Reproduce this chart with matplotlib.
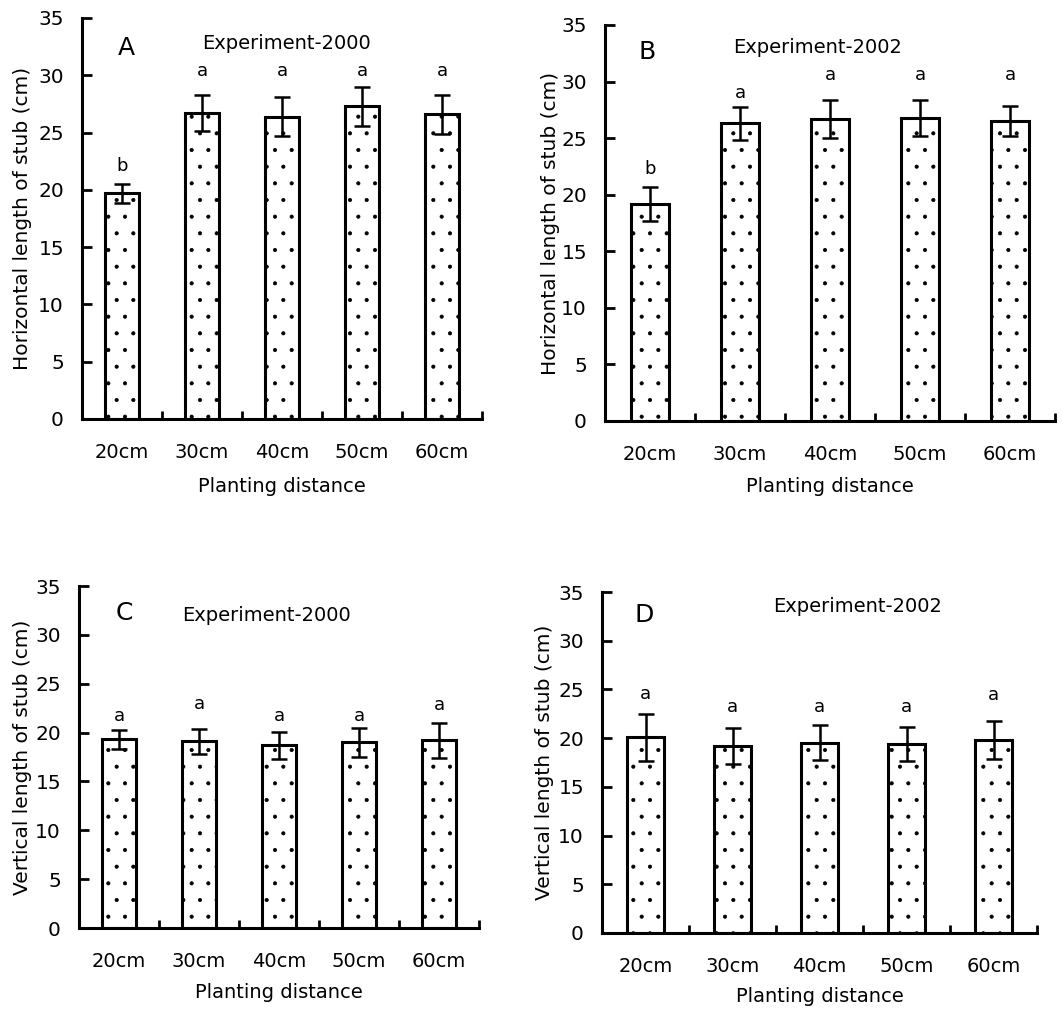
import matplotlib
matplotlib.use("Agg")
import matplotlib.pyplot as plt
import numpy as np

plt.rcParams['font.family'] = ['DejaVu Sans']
plt.rcParams['hatch.linewidth'] = 0.5

categories = ["20cm", "30cm", "40cm", "50cm", "60cm"]

a_vals = [19.7, 26.7, 26.4, 27.3, 26.6]
a_err = [0.85, 1.6, 1.7, 1.7, 1.7]
a_letters = ["b", "a", "a", "a", "a"]
a_letter_y = [22.1, 30.4, 30.4, 30.4, 30.4]

b_vals = [19.2, 26.3, 26.7, 26.8, 26.5]
b_err = [1.5, 1.45, 1.7, 1.6, 1.35]
b_letters = ["b", "a", "a", "a", "a"]
b_letter_y = [22.3, 29.0, 30.6, 30.6, 30.6]

c_vals = [19.3, 19.1, 18.7, 19.0, 19.2]
c_err = [1.0, 1.25, 1.4, 1.5, 1.8]
c_letters = ["a", "a", "a", "a", "a"]
c_letter_y = [21.7, 22.9, 21.7, 21.7, 22.8]

d_vals = [20.1, 19.2, 19.55, 19.4, 19.85]
d_err = [2.4, 1.85, 1.8, 1.75, 1.95]
d_letters = ["a", "a", "a", "a", "a"]
d_letter_y = [24.5, 23.2, 23.2, 23.15, 24.4]

W, H = 1062, 1009
fig = plt.figure(figsize=(W / 100, H / 100), dpi=100)

def px_axes(x0, x1, ytop, ybot):
    return fig.add_axes([x0 / W, 1 - ybot / H, (x1 - x0) / W, (ybot - ytop) / H])

panels = [
    dict(box=(82, 482, 18, 419), vals=a_vals, err=a_err, letters=a_letters, ly=a_letter_y,
         tag="A", tagpos=(0.06, 32.4), exp="Experiment-2000", exppos=(2.06, 32.8),
         ylabel="Horizontal length of stub (cm)", xlo=68, ylo=60),
    dict(box=(605, 1055, 25, 421), vals=b_vals, err=b_err, letters=b_letters, ly=b_letter_y,
         tag="B", tagpos=(-0.03, 32.6), exp="Experiment-2002", exppos=(1.86, 33.0),
         ylabel="Horizontal length of stub (cm)", xlo=66, ylo=55),
    dict(box=(79, 479, 586, 928), vals=c_vals, err=c_err, letters=c_letters, ly=c_letter_y,
         tag="C", tagpos=(0.07, 32.2), exp="Experiment-2000", exppos=(1.85, 32.0),
         ylabel="Vertical length of stub (cm)", xlo=65, ylo=57),
    dict(box=(602, 1037, 592, 933), vals=d_vals, err=d_err, letters=d_letters, ly=d_letter_y,
         tag="D", tagpos=(-0.01, 32.6), exp="Experiment-2002", exppos=(2.44, 33.5),
         ylabel="Vertical length of stub (cm)", xlo=64, ylo=57),
]

x = np.arange(len(categories))
for p in panels:
    x0, x1, yt, yb = p["box"]
    ax = px_axes(x0, x1, yt, yb)
    ax.bar(x, p["vals"], width=0.42, color="white", edgecolor="black",
           linewidth=2.2, hatch=".", zorder=2)
    ax.errorbar(x, p["vals"], yerr=p["err"], fmt="none", ecolor="black",
                elinewidth=1.8, capsize=5.5, capthick=1.8, zorder=3)
    for xi, lt, ly in zip(x, p["letters"], p["ly"]):
        ax.text(xi, ly, lt, ha="center", va="center", fontsize=13)
    ax.text(p["tagpos"][0], p["tagpos"][1], p["tag"], ha="center", va="center", fontsize=18)
    ax.text(p["exppos"][0], p["exppos"][1], p["exp"], ha="center", va="center", fontsize=14)

    ax.set_xlim(-0.5, len(categories) - 0.5)
    ax.set_ylim(0, 35)
    ax.set_yticks(np.arange(0, 36, 5))
    ax.set_xticks(x)
    ax.set_xticklabels(categories)
    ax.set_xticks(np.arange(-0.5, len(categories), 1.0), minor=True)
    ax.tick_params(axis="x", which="major", length=0, pad=17, labelsize=14)
    ax.tick_params(axis="x", which="minor", direction="in", length=6, width=2)
    ax.tick_params(axis="y", direction="in", length=7, width=2, pad=13, labelsize=14.5)
    for s in ["top", "right"]:
        ax.spines[s].set_visible(False)
    for s in ["left", "bottom"]:
        ax.spines[s].set_linewidth(2.2)
    ax.set_xlabel("Planting distance", fontsize=14)
    ax.set_ylabel(p["ylabel"], fontsize=14.5)
    ax.xaxis.label.set_va("center")
    ax.yaxis.label.set_va("center")
    ax.xaxis.set_label_coords(0.5, -p["xlo"] / (yb - yt))
    ax.yaxis.set_label_coords(-p["ylo"] / (x1 - x0), 0.5)

fig.savefig("out.png", dpi=100)
